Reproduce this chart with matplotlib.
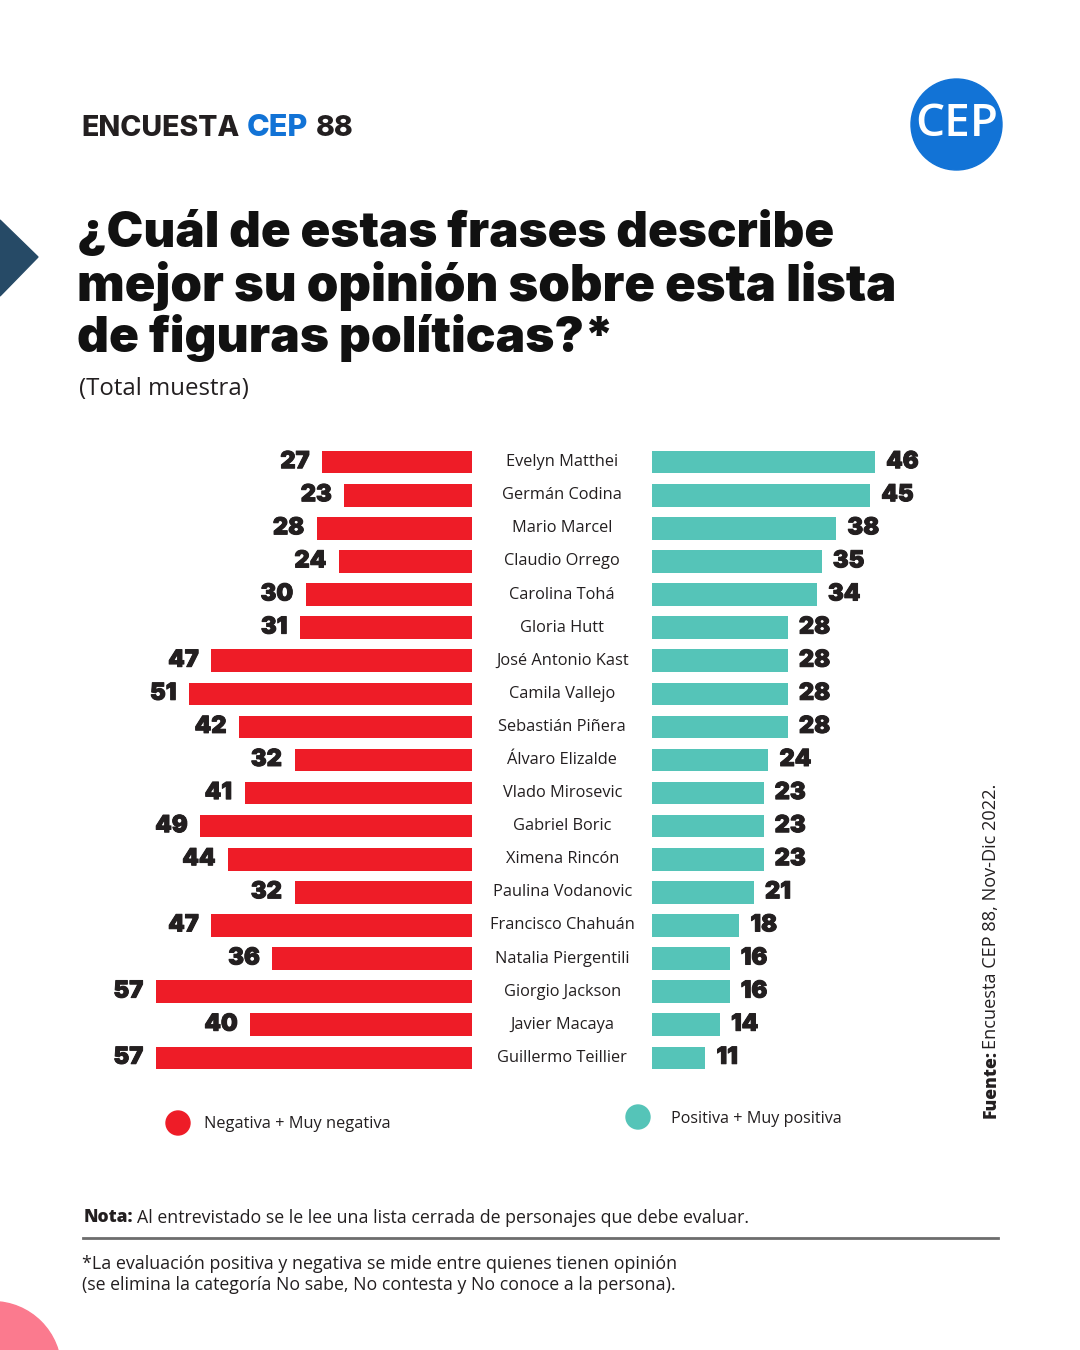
#!/usr/bin/env python
"""Encuesta CEP 88 - evaluacion de figuras politicas"""

import matplotlib
matplotlib.use('Agg')
import matplotlib.pyplot as plt
import matplotlib.patheffects as pe
from matplotlib.patches import Circle, Polygon

W, H = 1080, 1350

names = ['Evelyn Matthei', 'Germán Codina', 'Mario Marcel', 'Claudio Orrego',
         'Carolina Tohá', 'Gloria Hutt', 'José Antonio Kast', 'Camila Vallejo',
         'Sebastián Piñera', 'Álvaro Elizalde', 'Vlado Mirosevic', 'Gabriel Boric',
         'Ximena Rincón', 'Paulina Vodanovic', 'Francisco Chahuán',
         'Natalia Piergentili', 'Giorgio Jackson', 'Javier Macaya', 'Guillermo Teillier']
negative = [27, 23, 28, 24, 30, 31, 47, 51, 42, 32, 41, 49, 44, 32, 47, 36, 57, 40, 57]
positive = [46, 45, 38, 35, 34, 28, 28, 28, 28, 24, 23, 23, 23, 21, 18, 16, 16, 14, 11]

RED = '#ee1c27'
TEAL = '#55c4b8'
DARK = '#231f20'
BLUE = '#1273d6'

plt.rcParams['font.family'] = ['Open Sans', 'DejaVu Sans']

fig = plt.figure(figsize=(W / 100, H / 100), dpi=100, facecolor='white')

# page layer in pixel coordinates
bg = fig.add_axes([0, 0, 1, 1])
bg.set_xlim(0, W)
bg.set_ylim(H, 0)
bg.axis('off')

bg.add_patch(Polygon([[0, 220], [38, 257], [0, 296]], color='#264a66'))
bg.add_patch(Circle((-7.4, 1370), 68.4, color='#fb7a8e'))
bg.add_patch(Circle((956.5, 124.5), 45.5, color=BLUE))
bg.text(957, 125, 'CEP', color='white', fontsize=33, fontweight='semibold', ha='center', va='center')

bg.text(81, 128, 'ENCUESTA', color=DARK, fontsize=20.5, fontweight='extra bold', va='center', family='Inter')
bg.text(247, 128, 'CEP', color=BLUE, fontsize=22, fontweight='extra bold', va='center', family='Inter')
bg.text(316, 128, '88', color=DARK, fontsize=20.5, fontweight='extra bold', va='center', family='Inter')

title_lines = ['¿Cuál de estas frases describe', 'mejor su opinión sobre esta lista',
               'de figuras políticas?*']
for line, y, size in zip(title_lines, [234, 286, 338], [35.4, 36.5, 35.6]):
    bg.text(77, y, line, color='#111111', fontsize=size, fontweight='black', va='center', family='Inter')
bg.text(79, 389, '(Total muestra)', color=DARK, fontsize=17.3, va='center')

# legend
bg.add_patch(Circle((178, 1123), 12, color=RED))
bg.text(204, 1124, 'Negativa + Muy negativa', color=DARK, fontsize=11.8, va='center')
bg.add_patch(Circle((638, 1117), 12, color=TEAL))
bg.text(671, 1119, 'Positiva + Muy positiva', color=DARK, fontsize=11.6, va='center')

# source
bg.text(991, 1118, 'Fuente:', color=DARK, fontsize=12.6, fontweight='extra bold', rotation=90,
        ha='center', va='bottom')
bg.text(991, 1049, 'Encuesta CEP 88, Nov-Dic 2022.', color=DARK, fontsize=13.1, rotation=90,
        ha='center', va='bottom')

# notes
bg.text(84, 1217, 'Nota:', color=DARK, fontsize=12.5, fontweight='extra bold', va='center')
bg.text(137, 1218, 'Al entrevistado se le lee una lista cerrada de personajes que debe evaluar.',
        color=DARK, fontsize=12.75, va='center')
bg.plot([83, 998], [1238, 1238], color='#6d6d6d', lw=2)
bg.text(82, 1264, '*La evaluación positiva y negativa se mide entre quienes tienen opinión',
        color=DARK, fontsize=12.85, va='center')
bg.text(82, 1285, '(se elimina la categoría No sabe, No contesta y No conoce a la persona).',
        color=DARK, fontsize=12.8, va='center')

# bars: left axes 156-472 for 57 units, right axes 652-875 for 46 units
top, bottom = 444, 1076
ax_l = fig.add_axes([0, 1 - bottom / H, 472 / W, (bottom - top) / H])
ax_r = fig.add_axes([652 / W, 1 - bottom / H, (W - 652) / W, (bottom - top) / H])
scale_l = (472 - 156) / 57
scale_r = (875 - 652) / 46

ys = list(range(len(names)))
ax_l.barh(ys, negative, height=0.68, color=RED)
ax_r.barh(ys, positive, height=0.68, color=TEAL)

ax_l.set_xlim(472 / scale_l, 0)
ax_r.set_xlim(0, (W - 652) / scale_r)
for ax in (ax_l, ax_r):
    ax.set_ylim(len(names) - 0.5 + 0.05, -0.5 - 0.05)
    ax.axis('off')
    ax.patch.set_alpha(0)

heavy = [pe.withStroke(linewidth=0.7, foreground=DARK)]
for y, name, neg, pos in zip(ys, names, negative, positive):
    ax_l.text(neg + 2.3, y, str(neg), color=DARK, fontsize=17, fontweight='black', family='Inter',
              ha='right', va='center', path_effects=heavy)
    ax_r.text(pos + 2.3, y, str(pos), color=DARK, fontsize=17, fontweight='black', family='Inter',
              ha='left', va='center', path_effects=heavy)
    ax_l.annotate(name, xy=(0, y), xytext=(65, 0), textcoords='offset points', color=DARK,
                  fontsize=11.8, ha='center', va='center', annotation_clip=False)

fig.savefig('out.png', dpi=100)
